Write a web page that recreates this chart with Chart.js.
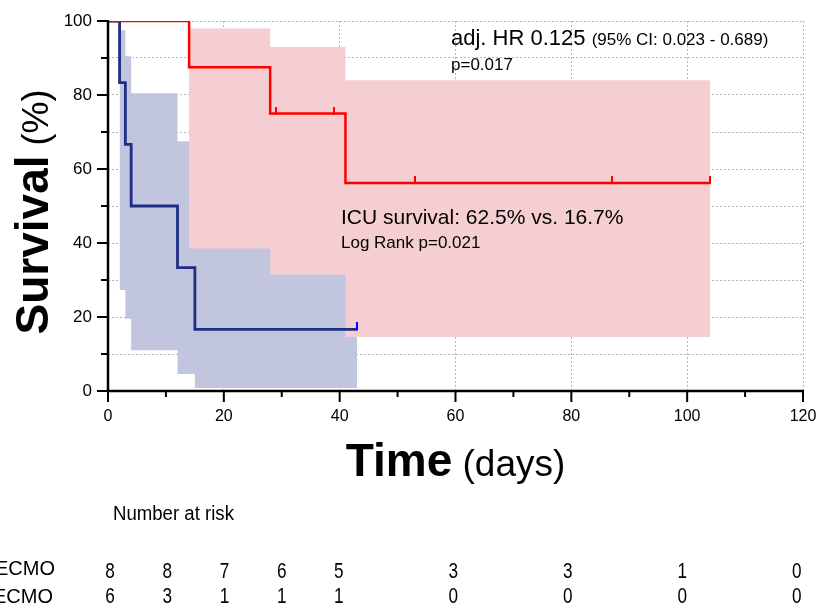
<!DOCTYPE html>
<html>
<head>
<meta charset="utf-8">
<script src="https://cdn.jsdelivr.net/npm/chart.js@4/dist/chart.umd.min.js"></script>
<style>
  body { margin: 0; background: #fff; }
  canvas { display: block; }
</style>
</head>
<body>
<canvas id="kmChart" width="819" height="606"></canvas>
<script>
'use strict'

// Kaplan-Meier steps: time (days) and survival (%) after each event
const ecmoTimes = [0, 14, 28, 41, 104];
const ecmoSurv = [100, 87.5, 75, 56.25, 56.25];
const noEcmoTimes = [0, 2, 3, 4, 12, 15, 43];
const noEcmoSurv = [100, 83.33, 66.67, 50, 33.33, 16.67, 16.67];

// censored observations
const ecmoCensTimes = [29, 39, 53, 87, 104];
const ecmoCensSurv = [75, 75, 56.25, 56.25, 56.25];
const noEcmoCensTimes = [43];
const noEcmoCensSurv = [16.67];

// 95% confidence bands
const ecmoBandTimes = [14, 28, 41, 104];
const ecmoBandUpper = [98, 93, 84, 84];
const ecmoBandLower = [38.5, 31.4, 14.6, 14.6];
const noEcmoBandTimes = [2, 3, 4, 12, 15, 43];
const noEcmoBandUpper = [97.5, 90.5, 80.5, 67.5, 51.6, 51.6];
const noEcmoBandLower = [27.3, 19.5, 11, 4.6, 0.8, 0.8];

// number at risk table
const riskTimes = [0, 10, 20, 30, 40, 60, 80, 100, 120];
const riskEcmo = [8, 8, 7, 6, 5, 3, 3, 1, 0];
const riskNoEcmo = [6, 3, 1, 1, 1, 0, 0, 0, 0];
const riskLabels = ['ECMO', 'no ECMO'];

const RED = '#ff0000';
const NAVY = '#1f2d87';
const FONT = '"Liberation Sans", Arial, Helvetica, sans-serif';

//==================================================================================================

function toPoints(xs, ys){
	return xs.map((x, i) => ({ x: x, y: ys[i] }));
}

// small upward tick used as censor mark
function censorMark(color){
	const c = document.createElement('canvas');
	c.width = 2;
	c.height = 14;
	const g = c.getContext('2d');
	g.fillStyle = color;
	g.fillRect(0, 0, 2, 8);
	return c;
}

// text squeezed horizontally (condensed look of the risk table)
function narrowText(ctx, text, x, y, sx){
	ctx.save();
	ctx.translate(x, y);
	ctx.scale(sx, 1);
	ctx.fillText(text, 0, 0);
	ctx.restore();
}

// axis lines with major / minor ticks
const axesPlugin = {
	id: 'axesPlugin',
	afterDatasetsDraw(chart){
		const ctx = chart.ctx;
		const xs = chart.scales.x;
		const ys = chart.scales.y;
		const x0 = xs.getPixelForValue(0);
		const y0 = ys.getPixelForValue(0);
		ctx.save();
		ctx.strokeStyle = '#000';
		ctx.lineWidth = 2.5;
		ctx.beginPath();
		ctx.moveTo(x0, ys.getPixelForValue(100) - 1);
		ctx.lineTo(x0, y0);
		ctx.lineTo(xs.getPixelForValue(120) + 1, y0);
		ctx.stroke();
		ctx.lineWidth = 2;
		ctx.beginPath();
		for(let v = 0; v <= 100; v += 10){
			const py = ys.getPixelForValue(v);
			ctx.moveTo(x0, py);
			ctx.lineTo(x0 - (v % 20 == 0 ? 11 : 7), py);
		}
		for(let v = 0; v <= 120; v += 10){
			const px = xs.getPixelForValue(v);
			ctx.moveTo(px, y0);
			ctx.lineTo(px, y0 + (v % 20 == 0 ? 11 : 6));
		}
		ctx.stroke();
		ctx.restore();
	}
};

// titles, annotations and number-at-risk table
const textPlugin = {
	id: 'textPlugin',
	afterDraw(chart){
		const ctx = chart.ctx;
		const xs = chart.scales.x;
		const area = chart.chartArea;
		ctx.save();
		ctx.fillStyle = '#000';
		ctx.textBaseline = 'alphabetic';
		ctx.textAlign = 'left';

		// y title
		ctx.save();
		ctx.translate(48, 212);
		ctx.rotate(-Math.PI / 2);
		ctx.font = 'bold 46px ' + FONT;
		const wBold = ctx.measureText('Survival').width;
		ctx.font = '36px ' + FONT;
		const wReg = ctx.measureText(' (%)').width;
		let sx = -(wBold + wReg) / 2;
		ctx.font = 'bold 46px ' + FONT;
		ctx.fillText('Survival', sx, 0);
		ctx.font = '36px ' + FONT;
		ctx.fillText(' (%)', sx + wBold, 0);
		ctx.restore();

		// x title
		ctx.font = 'bold 46px ' + FONT;
		const tBold = ctx.measureText('Time').width;
		ctx.font = '37px ' + FONT;
		const tReg = ctx.measureText(' (days)').width;
		let tx = (area.left + area.right) / 2 - (tBold + tReg) / 2;
		ctx.font = 'bold 46px ' + FONT;
		ctx.fillText('Time', tx, 476);
		ctx.font = '37px ' + FONT;
		ctx.fillText(' (days)', tx + tBold, 476);

		// hazard ratio
		ctx.font = '22px ' + FONT;
		ctx.fillText('adj. HR 0.125', 451, 45);
		const hrW = ctx.measureText('adj. HR 0.125 ').width;
		ctx.font = '17px ' + FONT;
		ctx.fillText('(95% CI: 0.023 - 0.689)', 451 + hrW, 45);
		ctx.fillText('p=0.017', 451, 70);

		// ICU survival
		ctx.font = '21px ' + FONT;
		ctx.fillText('ICU survival: 62.5% vs. 16.7%', 341, 224);
		ctx.font = '17px ' + FONT;
		ctx.fillText('Log Rank p=0.021', 341, 248);

		// number at risk (table columns are set a little tighter than the axis)
		ctx.font = '20px ' + FONT;
		narrowText(ctx, 'Number at risk', 113, 520, 0.93);
		ctx.textAlign = 'right';
		ctx.fillText(riskLabels[0], 55, 575);
		ctx.fillText(riskLabels[1], 53, 603);
		ctx.textAlign = 'center';
		ctx.font = '22px ' + FONT;
		const x0 = xs.getPixelForValue(0);
		riskTimes.forEach((t, i) => {
			const px = x0 + 2 + (xs.getPixelForValue(t) - x0) * 0.988;
			narrowText(ctx, String(riskEcmo[i]), px, 578, 0.78);
			narrowText(ctx, String(riskNoEcmo[i]), px, 603, 0.78);
		});
		ctx.restore();
	}
};

//==================================================================================================

new Chart(document.getElementById('kmChart'), {
	type: 'line',
	data: {
		datasets: [
			{ data: toPoints(noEcmoBandTimes, noEcmoBandLower), stepped: 'before', borderWidth: 0, pointRadius: 0, order: 3, fill: false },
			{ data: toPoints(noEcmoBandTimes, noEcmoBandUpper), stepped: 'before', borderWidth: 0, pointRadius: 0, order: 3,
				fill: '-1', backgroundColor: '#c1c6de' },
			{ data: toPoints(ecmoBandTimes, ecmoBandLower), stepped: 'before', borderWidth: 0, pointRadius: 0, order: 2, fill: false },
			{ data: toPoints(ecmoBandTimes, ecmoBandUpper), stepped: 'before', borderWidth: 0, pointRadius: 0, order: 2,
				fill: '-1', backgroundColor: '#f5ced1' },
			{ data: toPoints(ecmoTimes, ecmoSurv), stepped: 'before', borderColor: RED, borderWidth: 2.5, pointRadius: 0, order: 1, fill: false },
			{ data: toPoints(noEcmoTimes, noEcmoSurv), stepped: 'before', borderColor: NAVY, borderWidth: 2.8, pointRadius: 0, order: 1, fill: false },
			{ data: toPoints(ecmoCensTimes, ecmoCensSurv), showLine: false, pointStyle: censorMark(RED), pointRadius: 3, order: 0 },
			{ data: toPoints(noEcmoCensTimes, noEcmoCensSurv), showLine: false, pointStyle: censorMark('#0000ff'), pointRadius: 3, order: 0 }
		]
	},
	options: {
		responsive: false,
		animation: false,
		layout: { padding: { left: 0, top: 21, right: 16, bottom: 0 } },
		plugins: { legend: { display: false }, tooltip: { enabled: false } },
		scales: {
			x: {
				type: 'linear',
				min: 0,
				max: 120,
				afterFit: (scale) => {
					scale.height = 215;
					scale.paddingLeft = 0;
					scale.paddingRight = 0;
				},
				border: { display: false, dash: [2, 2] },
				grid: {
					drawTicks: false,
					lineWidth: 1,
					color: (c) => (c.tick.value % 20 == 0 && c.tick.value != 0) ? '#b5b5b5' : 'transparent'
				},
				ticks: {
					stepSize: 10,
					autoSkip: false,
					maxRotation: 0,
					padding: 16,
					color: '#000',
					font: { family: FONT, size: 16 },
					callback: (v) => v % 20 == 0 ? v : ''
				}
			},
			y: {
				min: 0,
				max: 100,
				afterFit: (scale) => {
					scale.width = 108;
					scale.paddingTop = 0;
					scale.paddingBottom = 0;
				},
				border: { display: false, dash: [2, 2] },
				grid: {
					drawTicks: false,
					lineWidth: 1,
					color: (c) => c.tick.value != 0 ? '#b5b5b5' : 'transparent'
				},
				ticks: {
					stepSize: 10,
					autoSkip: false,
					padding: 16,
					color: '#000',
					font: { family: FONT, size: 17 },
					callback: (v) => v % 20 == 0 ? v : ''
				}
			}
		}
	},
	plugins: [axesPlugin, textPlugin]
});
</script>
</body>
</html>
